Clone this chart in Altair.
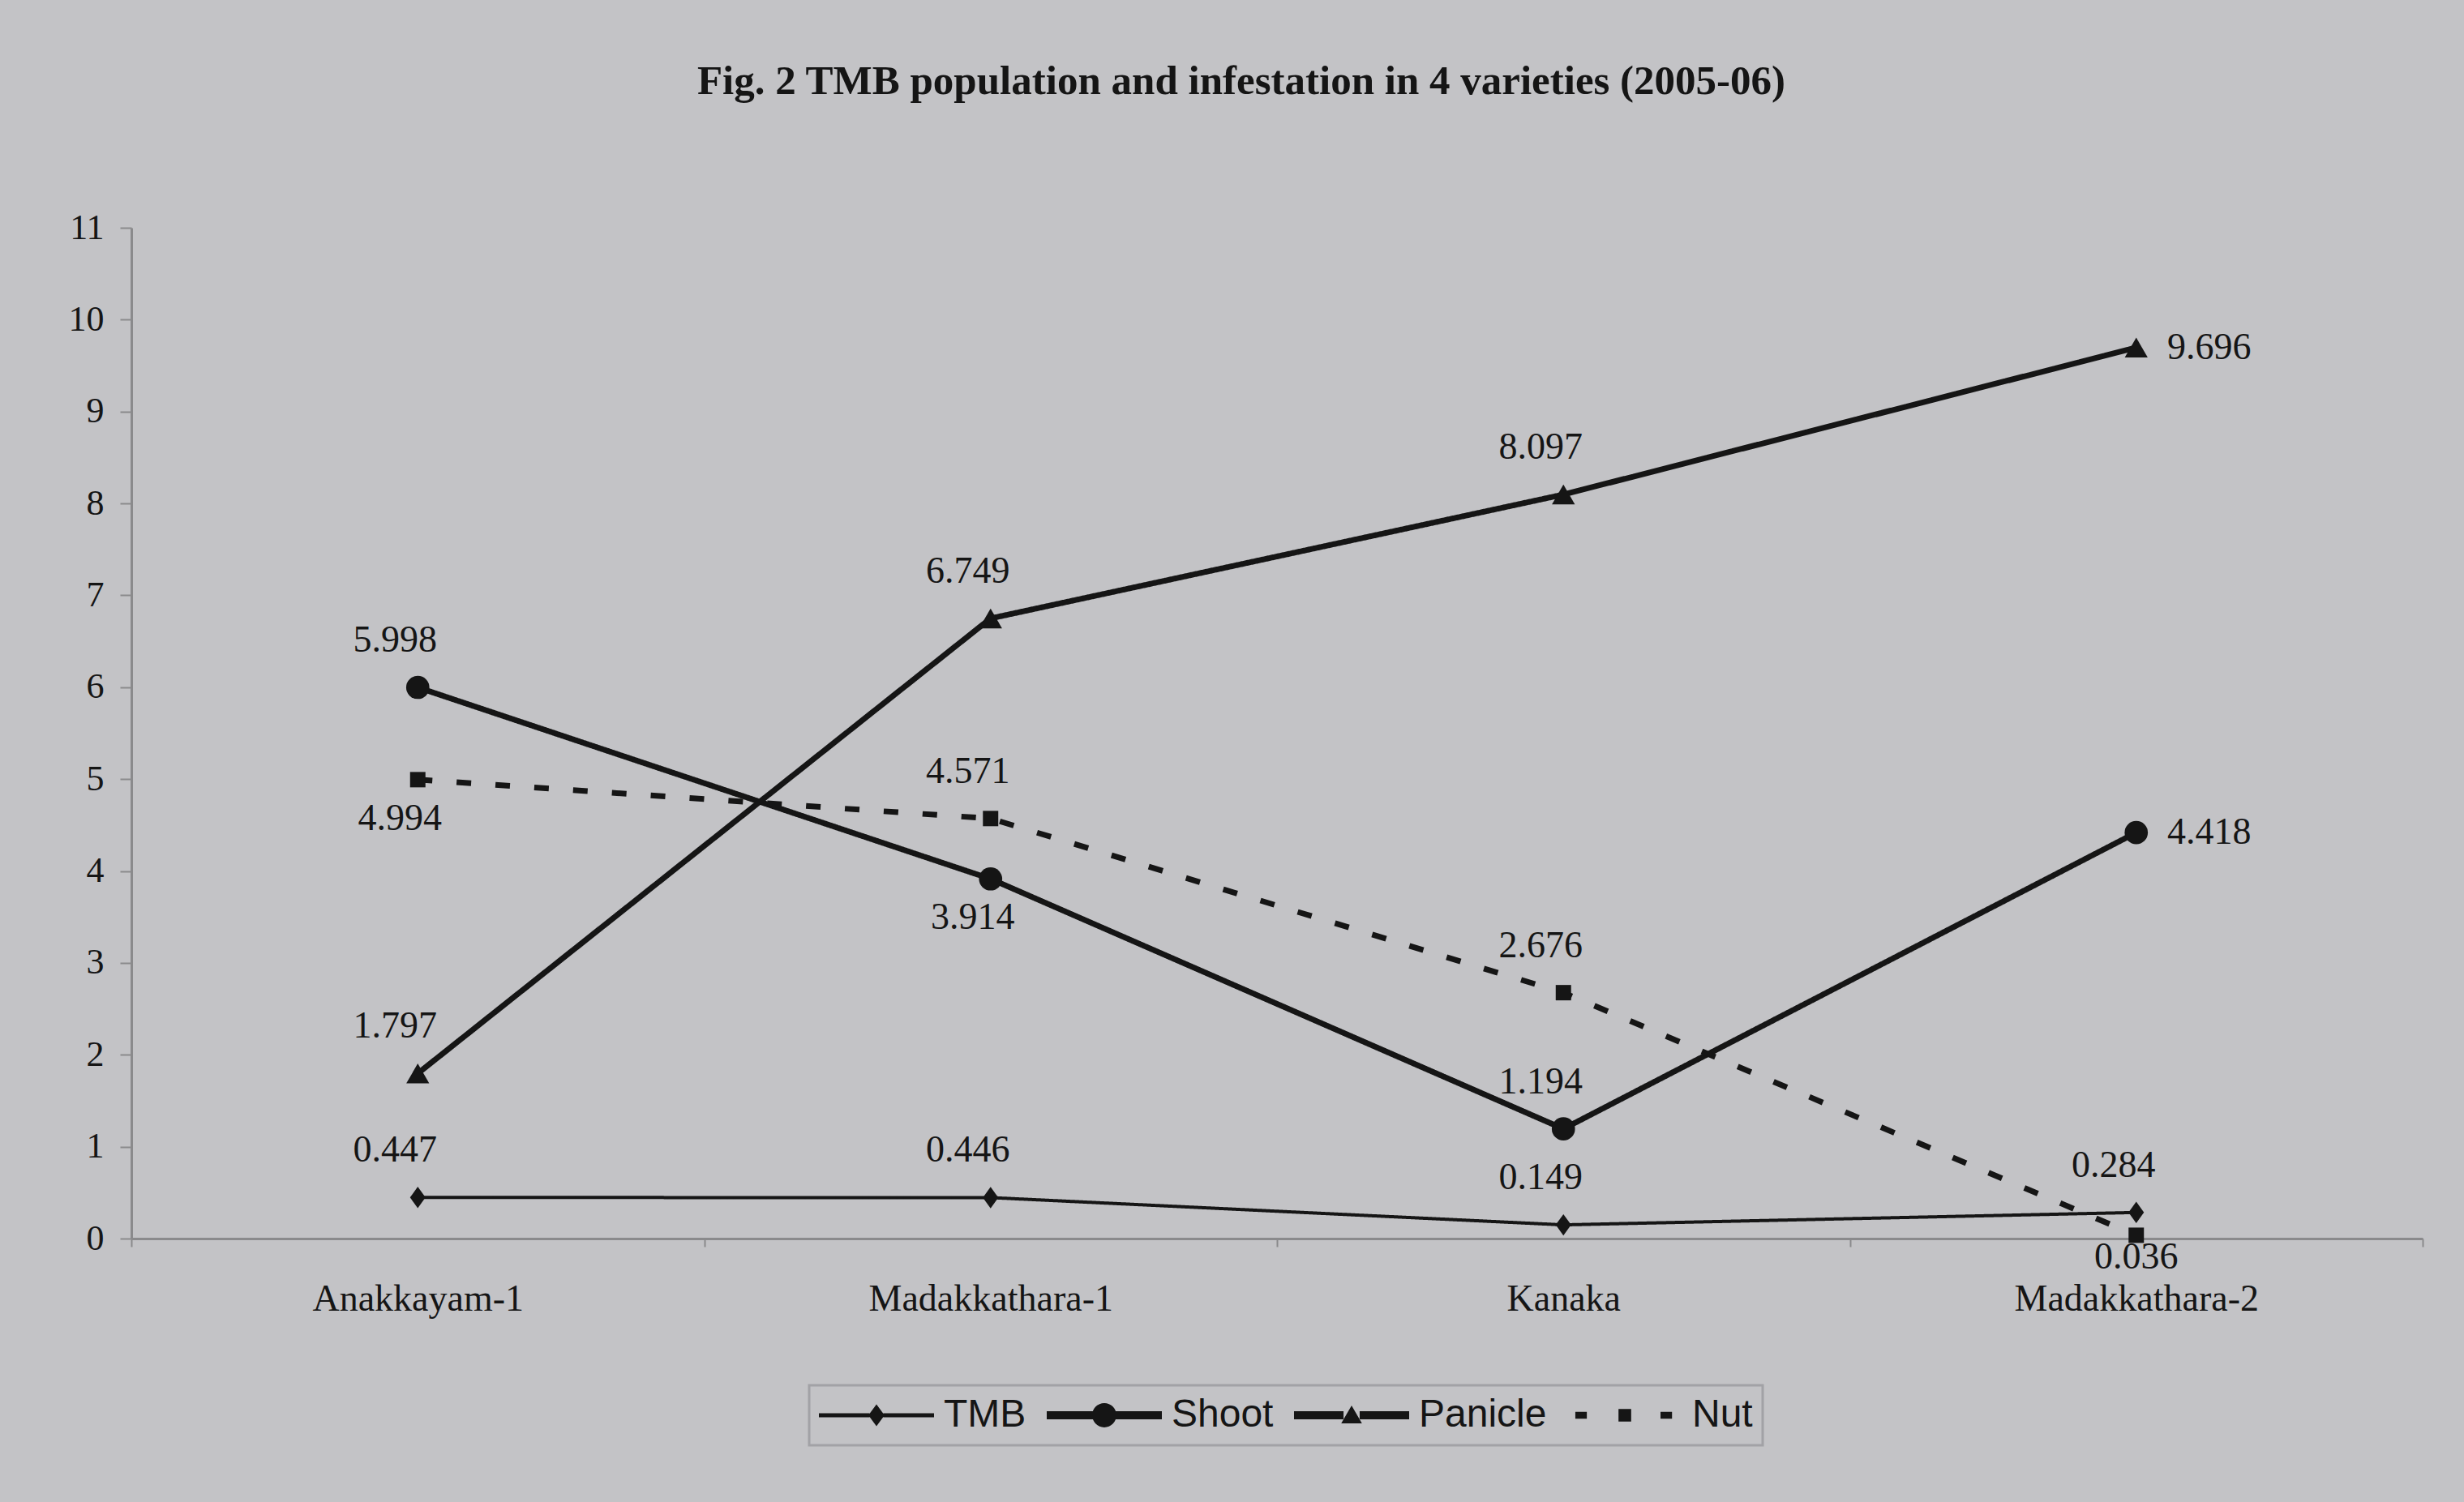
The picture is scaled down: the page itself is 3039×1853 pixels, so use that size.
import altair as alt
import pandas as pd

# ---- data -------------------------------------------------------------
varieties = ["Anakkayam-1", "Madakkathara-1", "Kanaka", "Madakkathara-2"]
series_names = ["TMB", "Shoot", "Panicle", "Nut"]

tmb = [0.447, 0.446, 0.149, 0.284]
shoot = [5.998, 3.914, 1.194, 4.418]
panicle = [1.797, 6.749, 8.097, 9.696]
nut = [4.994, 4.571, 2.676, 0.036]

y_ticks = list(range(0, 12))

# side of the point on which each value label is written
label_side = {
    "TMB": ["above", "above", "above", "above"],
    "Shoot": ["above", "below", "above", "right"],
    "Panicle": ["above", "above", "above", "right"],
    "Nut": ["below", "above", "above", "under"],
}

values = {"TMB": tmb, "Shoot": shoot, "Panicle": panicle, "Nut": nut}
rows = []
for s in series_names:
    for v, val, side in zip(varieties, values[s], label_side[s]):
        rows.append({"variety": v, "series": s, "value": val, "side": side})
df = pd.DataFrame(rows)

# ---- styling ----------------------------------------------------------
INK = "#151515"
AXIS_GREY = "#8a8a8c"
BG = "#c3c3c6"
SERIF = "Liberation Serif"
SANS = "Liberation Sans"

W, H = 2826, 1247
PAD = {"left": 162, "top": 281, "right": 3039 - 162 - W, "bottom": 1853 - 281 - H}

DIAMOND = "M0,-1L0.72,0L0,1L-0.72,0Z"
STYLE = {
    "TMB": dict(width=4, dash=[1, 0], shape=DIAMOND, size=700),
    "Shoot": dict(width=7, dash=[1, 0], shape="circle", size=820),
    "Panicle": dict(width=7, dash=[1, 0], shape="triangle-up", size=800),
    "Nut": dict(width=7, dash=[18, 30], shape="square", size=360),
}

# legend glyphs: line segment with the series marker in the middle
LEGEND_PATHS = [
    "M-1,-0.035H-0.12V0.035H-1Z M0.12,-0.035H1V0.035H0.12Z "
    "M0,-0.19L0.14,0L0,0.19L-0.14,0Z",
    "M-1,-0.07H-0.18V0.07H-1Z M0.18,-0.07H1V0.07H0.18Z "
    "M-0.21,0A0.21,0.21 0 1,1 0.21,0A0.21,0.21 0 1,1 -0.21,0Z",
    "M-1,-0.07H-0.14V0.07H-1Z M0.14,-0.07H1V0.07H0.14Z "
    "M0,-0.17L0.18,0.14H-0.18Z",
    "M-0.86,-0.06H-0.66V0.06H-0.86Z M-0.11,-0.11H0.11V0.11H-0.11Z "
    "M0.62,-0.06H0.82V0.06H0.62Z",
]

LABEL_OFFSETS = {"above": (-28, -58), "below": (-22, 48), "right": (90, 0), "under": (0, 27)}

X = alt.X(
    "variety:N",
    sort=varieties,
    bandPosition=0.5,
    scale=alt.Scale(type="band", domain=varieties, paddingInner=0, paddingOuter=0),
    axis=alt.Axis(
        title=None,
        labelAngle=0,
        labelFont=SERIF,
        labelFontSize=46,
        labelColor=INK,
        labelPadding=42,
        labelLimit=0,
        tickBand="extent",
        tickSize=10,
        tickColor=AXIS_GREY,
        tickWidth=2,
        domainColor=AXIS_GREY,
        domainWidth=3,
        grid=False,
    ),
)
Y = alt.Y(
    "value:Q",
    scale=alt.Scale(domain=[0, 11], nice=False, zero=True),
    axis=alt.Axis(
        title=None,
        values=y_ticks,
        labelFont=SERIF,
        labelFontSize=44,
        labelColor=INK,
        labelPadding=20,
        tickSize=14,
        tickColor=AXIS_GREY,
        tickWidth=2,
        domainColor=AXIS_GREY,
        domainWidth=3,
        grid=False,
    ),
)

base = alt.Chart(df)
layers = []

for s in series_names:
    st = STYLE[s]
    sub = base.transform_filter(alt.datum.series == s)
    layers.append(
        sub.mark_line(color=INK, strokeWidth=st["width"], strokeDash=st["dash"]).encode(x=X, y=Y)
    )
    layers.append(
        sub.mark_point(filled=True, color=INK, opacity=1, shape=st["shape"], size=st["size"]).encode(
            x=X, y=Y
        )
    )

# value labels
for side, (dx, dy) in LABEL_OFFSETS.items():
    layers.append(
        base.transform_filter(alt.datum.side == side)
        .mark_text(
            font=SERIF, fontSize=46, color=INK, dx=dx, dy=dy,
            align="center", baseline="middle",
        )
        .encode(x=X, y=Y, text=alt.Text("value:Q", format=".3f"))
    )

# legend carrier: invisible points whose shape scale feeds the legend
layers.append(
    base.mark_point(filled=True, color=INK, size=10)
    .encode(
        x=X,
        y=Y,
        opacity=alt.value(0),
        shape=alt.Shape(
            "series:N",
            sort=series_names,
            scale=alt.Scale(domain=series_names, range=LEGEND_PATHS),
            legend=alt.Legend(
                title=None,
                orient="none",
                direction="horizontal",
                legendX=836,
                legendY=1428,
                symbolSize=142 * 142,
                symbolOpacity=1,
                symbolStrokeWidth=0,
                symbolFillColor=INK,
                clipHeight=50,
                labelFont=SANS,
                labelFontSize=48,
                labelColor=INK,
                labelOffset=12,
                columnPadding=25,
                padding=12,
                strokeColor="#a2a2a6",
            ),
        ),
    )
)

chart = (
    alt.layer(*layers)
    .resolve_scale(shape="independent")
    .properties(
        width=W,
        height=H,
        padding=PAD,
        autosize=alt.AutoSizeParams(type="none"),
        background=BG,
        title=alt.TitleParams(
            text="Fig. 2 TMB population and infestation in 4 varieties (2005-06)",
            font=SERIF,
            fontSize=51,
            fontWeight="bold",
            color=INK,
            anchor="middle",
            dx=-44,
            offset=132,
        ),
    )
    .configure_view(stroke=None)
    .configure_legend(strokeWidth=3)
)

chart.save("out.html", embed_options={"renderer": "svg", "actions": False})
